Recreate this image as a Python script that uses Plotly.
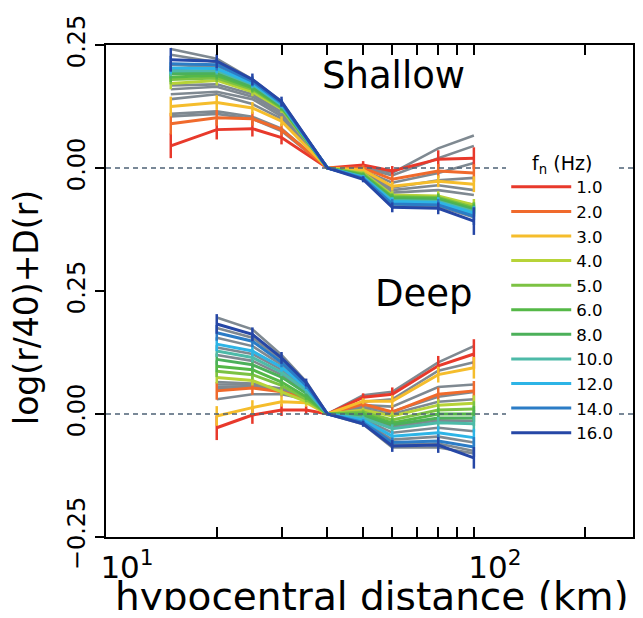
import plotly.graph_objects as go
from plotly.subplots import make_subplots

# ---------------- data ----------------
freq_labels = ["1.0", "2.0", "3.0", "4.0", "5.0", "6.0", "8.0", "10.0", "12.0", "14.0", "16.0"]
freq_colors = ["#e8392b", "#f06a2c", "#f5bd2c", "#b7d338", "#7cc243", "#55b847",
               "#4cb05a", "#4dbaa8", "#2db4e6", "#2b7cc6", "#2647a6"]
gray_color = "#7f8991"

shallow_r = [15, 20, 25, 30, 40, 50, 60, 80, 100]
deep_r = [20, 25, 30, 35, 40, 50, 60, 80, 100]

shallow_vals = {
    "1.0":  [0.045, 0.078, 0.080, 0.062, 0, 0.006, -0.006, 0.018, 0.020],
    "2.0":  [0.090, 0.102, 0.100, 0.078, 0, 0.000, -0.023, -0.006, -0.010],
    "3.0":  [0.125, 0.133, 0.122, 0.095, 0, -0.004, -0.037, -0.027, -0.033],
    "4.0":  [0.172, 0.178, 0.155, 0.120, 0, -0.010, -0.055, -0.057, -0.075],
    "5.0":  [0.180, 0.183, 0.160, 0.122, 0, -0.012, -0.058, -0.060, -0.080],
    "6.0":  [0.185, 0.188, 0.163, 0.124, 0, -0.014, -0.060, -0.062, -0.083],
    "8.0":  [0.192, 0.192, 0.166, 0.126, 0, -0.016, -0.063, -0.065, -0.086],
    "10.0": [0.197, 0.198, 0.170, 0.128, 0, -0.018, -0.066, -0.068, -0.089],
    "12.0": [0.203, 0.202, 0.172, 0.130, 0, -0.019, -0.068, -0.070, -0.092],
    "14.0": [0.212, 0.210, 0.176, 0.132, 0, -0.021, -0.073, -0.075, -0.098],
    "16.0": [0.220, 0.217, 0.180, 0.135, 0, -0.023, -0.080, -0.082, -0.108],
}
shallow_err = {
    "1.0":  [0.025, 0.020, 0.016, 0.014, 0, 0.008, 0.010, 0.018, 0.022],
    "2.0":  [0.022, 0.016, 0.014, 0.012, 0, 0.006, 0.010, 0.014, 0.018],
    "3.0":  [0.020, 0.015, 0.012, 0.010, 0, 0.005, 0.009, 0.012, 0.016],
    "4.0":  [0.012, 0.010, 0.009, 0.008, 0, 0.004, 0.008, 0.010, 0.012],
    "5.0":  [0.010, 0.008, 0.008, 0.007, 0, 0.004, 0.007, 0.009, 0.011],
    "6.0":  [0.010, 0.008, 0.008, 0.007, 0, 0.004, 0.007, 0.009, 0.011],
    "8.0":  [0.010, 0.008, 0.008, 0.007, 0, 0.004, 0.007, 0.009, 0.011],
    "10.0": [0.010, 0.008, 0.008, 0.007, 0, 0.004, 0.007, 0.009, 0.011],
    "12.0": [0.012, 0.009, 0.008, 0.007, 0, 0.004, 0.008, 0.010, 0.014],
    "14.0": [0.016, 0.012, 0.010, 0.008, 0, 0.005, 0.010, 0.012, 0.018],
    "16.0": [0.024, 0.014, 0.012, 0.010, 0, 0.006, 0.010, 0.012, 0.028],
}
shallow_gray = [
    [0.105, 0.110, 0.100, 0.075, 0, 0.002, -0.010, 0.040, 0.066],
    [0.110, 0.115, 0.104, 0.080, 0, 0.000, -0.015, 0.020, 0.045],
    [0.140, 0.150, 0.130, 0.100, 0, -0.005, -0.030, -0.010, 0.010],
    [0.150, 0.155, 0.140, 0.105, 0, -0.008, -0.040, -0.025, -0.020],
    [0.160, 0.165, 0.145, 0.110, 0, -0.010, -0.045, -0.035, -0.045],
    [0.168, 0.170, 0.150, 0.115, 0, -0.012, -0.050, -0.045, -0.055],
    [0.200, 0.195, 0.165, 0.125, 0, -0.016, -0.060, -0.062, -0.075],
    [0.210, 0.205, 0.170, 0.128, 0, -0.018, -0.064, -0.066, -0.085],
    [0.230, 0.215, 0.175, 0.132, 0, -0.020, -0.072, -0.074, -0.095],
    [0.242, 0.222, 0.180, 0.135, 0, -0.020, -0.075, -0.078, -0.100],
]

deep_vals = {
    "1.0":  [-0.028, -0.002, 0.008, 0.008, 0, 0.034, 0.040, 0.098, 0.122],
    "2.0":  [0.047, 0.053, 0.045, 0.032, 0, 0.020, 0.004, 0.040, 0.047],
    "3.0":  [-0.004, 0.013, 0.025, 0.023, 0, 0.026, 0.026, 0.080, 0.094],
    "4.0":  [0.074, 0.068, 0.045, 0.025, 0, 0.008, -0.004, 0.018, 0.022],
    "5.0":  [0.087, 0.080, 0.058, 0.030, 0, 0.004, -0.012, 0.008, 0.010],
    "6.0":  [0.097, 0.090, 0.065, 0.035, 0, 0.000, -0.018, 0.000, 0.000],
    "8.0":  [0.111, 0.100, 0.075, 0.042, 0, -0.004, -0.022, -0.008, -0.008],
    "10.0": [0.128, 0.115, 0.085, 0.048, 0, -0.008, -0.030, -0.018, -0.020],
    "12.0": [0.142, 0.128, 0.095, 0.054, 0, -0.012, -0.045, -0.038, -0.048],
    "14.0": [0.165, 0.148, 0.105, 0.058, 0, -0.017, -0.058, -0.055, -0.067],
    "16.0": [0.183, 0.162, 0.114, 0.064, 0, -0.020, -0.065, -0.063, -0.089],
}
deep_err = {
    "1.0":  [0.025, 0.018, 0.012, 0.008, 0, 0.008, 0.014, 0.020, 0.030],
    "2.0":  [0.018, 0.014, 0.010, 0.008, 0, 0.006, 0.010, 0.014, 0.020],
    "3.0":  [0.020, 0.015, 0.010, 0.008, 0, 0.006, 0.012, 0.016, 0.022],
    "4.0":  [0.012, 0.010, 0.008, 0.006, 0, 0.005, 0.009, 0.012, 0.016],
    "5.0":  [0.012, 0.010, 0.008, 0.006, 0, 0.005, 0.009, 0.012, 0.016],
    "6.0":  [0.012, 0.010, 0.008, 0.006, 0, 0.005, 0.009, 0.012, 0.016],
    "8.0":  [0.012, 0.010, 0.008, 0.006, 0, 0.005, 0.009, 0.012, 0.016],
    "10.0": [0.012, 0.010, 0.008, 0.006, 0, 0.005, 0.009, 0.012, 0.016],
    "12.0": [0.014, 0.011, 0.009, 0.006, 0, 0.005, 0.010, 0.013, 0.018],
    "14.0": [0.016, 0.012, 0.010, 0.007, 0, 0.006, 0.010, 0.014, 0.020],
    "16.0": [0.020, 0.014, 0.012, 0.008, 0, 0.006, 0.012, 0.016, 0.022],
}
deep_gray = [
    [0.030, 0.040, 0.040, 0.030, 0, 0.038, 0.045, 0.105, 0.138],
    [0.050, 0.055, 0.046, 0.031, 0, 0.025, 0.030, 0.088, 0.105],
    [0.055, 0.057, 0.048, 0.030, 0, 0.018, 0.015, 0.055, 0.060],
    [0.060, 0.060, 0.052, 0.033, 0, 0.014, 0.005, 0.035, 0.045],
    [0.065, 0.062, 0.050, 0.030, 0, 0.010, 0.000, 0.025, 0.030],
    [0.120, 0.108, 0.080, 0.045, 0, -0.006, -0.026, -0.013, -0.014],
    [0.135, 0.122, 0.090, 0.050, 0, -0.010, -0.038, -0.028, -0.035],
    [0.155, 0.138, 0.100, 0.056, 0, -0.014, -0.052, -0.046, -0.058],
    [0.175, 0.155, 0.110, 0.061, 0, -0.019, -0.062, -0.060, -0.075],
    [0.196, 0.172, 0.120, 0.066, 0, -0.021, -0.068, -0.068, -0.080],
]

x_major_vals = [10, 100]
x_major_text = ["10<sup>1</sup>", "10<sup>2</sup>"]
x_minor_vals = [20, 30, 40, 50, 60, 70, 80, 90, 200]
panel_labels = ["Shallow", "Deep"]
x_title = "hypocentral distance (km)"
y_title = "log(r/40)+D(r)"

# ---------------- figure ----------------
# The page body keeps the browser's default 8px margin on every side, so the
# figure is sized to fit the 643x618 window exactly (643-16 by 618-16).
FONT = "DejaVu Sans"
fig = make_subplots(rows=2, cols=1, shared_xaxes=True, vertical_spacing=0)

panels = [(shallow_r, shallow_vals, shallow_err, shallow_gray, 1),
          (deep_r, deep_vals, deep_err, deep_gray, 2)]

for r_vals, vals, errs, grays, row in panels:
    for g in grays:
        fig.add_trace(go.Scatter(x=r_vals, y=g, mode="lines",
                                 line=dict(color=gray_color, width=2.6),
                                 showlegend=False, hoverinfo="skip"), row=row, col=1)
    for lab, col in zip(freq_labels, freq_colors):
        fig.add_trace(go.Scatter(
            x=r_vals, y=vals[lab], mode="lines", name=lab,
            line=dict(color=col, width=3),
            error_y=dict(type="data", array=errs[lab], visible=True,
                         color=col, thickness=2.5, width=0),
            legendgroup=lab, showlegend=(row == 1)), row=row, col=1)

axis_common = dict(showline=True, linewidth=2, linecolor="black", showgrid=False,
                   zeroline=False, tickwidth=2, tickcolor="black", automargin=False)

fig.update_xaxes(type="log", range=[1, 2.4353], tickvals=x_major_vals, ticktext=x_major_text,
                 ticks="inside", ticklen=10,
                 minor=dict(tickvals=x_minor_vals, ticks="inside", ticklen=10,
                            tickwidth=2, tickcolor="black", showgrid=False),
                 **axis_common)
fig.update_xaxes(side="top", showticklabels=False, row=1, col=1)
fig.update_xaxes(showticklabels=True, tickfont=dict(family=FONT, size=31, color="black"),
                 ticklabelshift=21, ticklabelstandoff=2, row=2, col=1)

fig.update_yaxes(range=[-0.25, 0.25], ticks="outside", ticklen=9, mirror=True,
                 tickangle=-90, tickformat=".2f",
                 tickfont=dict(family=FONT, size=24, color="black"), **axis_common)
fig.update_yaxes(tickvals=[0, 0.25], row=1, col=1)
fig.update_yaxes(tickvals=[-0.25, 0, 0.25], row=2, col=1)

for row in (1, 2):
    fig.add_hline(y=0, line=dict(color="#4d6275", width=1.5, dash="5px,4px"), row=row, col=1)

# right frame edge
fig.add_shape(type="line", xref="paper", yref="paper", x0=1, x1=1, y0=0, y1=1,
              line=dict(color="black", width=2))

fig.add_annotation(text=panel_labels[0], xref="paper", yref="paper", x=0.545, y=0.937,
                   xanchor="center", yanchor="middle",
                   showarrow=False, font=dict(family=FONT, size=37, color="black"))
fig.add_annotation(text=panel_labels[1], xref="paper", yref="paper", x=0.602, y=0.495,
                   xanchor="center", yanchor="middle",
                   showarrow=False, font=dict(family=FONT, size=37, color="black"))
fig.add_annotation(text=y_title, xref="paper", yref="paper", x=-0.1515, y=0.4654,
                   textangle=-90, showarrow=False, xanchor="center", yanchor="middle",
                   font=dict(family=FONT, size=33, color="black"))
fig.add_annotation(text=x_title, xref="paper", yref="paper", x=0.504, y=-0.121,
                   showarrow=False, xanchor="center", yanchor="middle",
                   font=dict(family=FONT, size=39, color="black"))

fig.update_layout(
    width=627, height=602,
    margin=dict(l=98, r=1, t=37, b=73, autoexpand=False),
    paper_bgcolor="white", plot_bgcolor="white",
    font=dict(family=FONT, color="black"),
    legend=dict(x=0.758, y=0.797, xanchor="left", yanchor="top",
                bgcolor="white", borderwidth=0, itemwidth=60, tracegroupgap=0,
                font=dict(family=FONT, size=16.6, color="black"),
                title=dict(text="f<sub>n</sub> (Hz)", side="top center",
                           font=dict(family=FONT, size=19, color="black"))),
    showlegend=True,
)

fig.write_html("out.html")
